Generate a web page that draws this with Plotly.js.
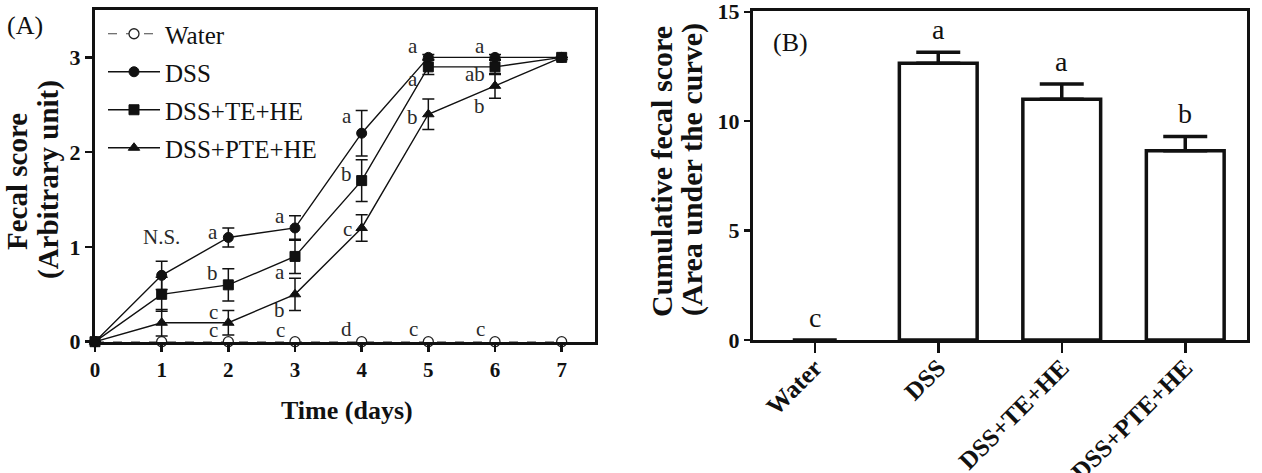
<!DOCTYPE html>
<html>
<head>
<meta charset="utf-8">
<script src="https://cdn.plot.ly/plotly-3.0.1.min.js"></script>
<style>
  html, body { margin: 0; padding: 0; background: #fff; }
  #chart { width: 1262px; height: 473px; }
</style>
</head>
<body>
<div id="chart"></div>
<script>
// ---- Panel A: daily fecal score ----
const days = [0, 1, 2, 3, 4, 5, 6, 7];
const waterScore = [0, 0, 0, 0, 0, 0, 0, 0];
const dssScore = [0, 0.7, 1.1, 1.2, 2.2, 3.0, 3.0, 3.0];
const dssErr = [0, 0.15, 0.1, 0.13, 0.24, 0.03, 0.03, 0];
const teScore = [0, 0.5, 0.6, 0.9, 1.7, 2.9, 2.9, 3.0];
const teErr = [0, 0.18, 0.17, 0.18, 0.22, 0.08, 0.08, 0];
const pteScore = [0, 0.2, 0.2, 0.5, 1.2, 2.4, 2.7, 3.0];
const pteErr = [0, 0.14, 0.13, 0.17, 0.14, 0.16, 0.13, 0];

// significance letters for panel A (day, score level, text)
const sigDay = [1, 2, 2, 2, 2, 3, 3, 3, 3, 4, 4, 4, 4, 5, 5, 5, 5, 6, 6, 6, 6];
const sigLevel = [1.1, 1.16, 0.73, 0.31, 0.12, 1.33, 0.74, 0.33, 0.12,
                  2.38, 1.77, 1.19, 0.13, 3.12, 2.77, 2.37, 0.13, 3.12, 2.83, 2.49, 0.13];
const sigText = ['N.S.', 'a', 'b', 'c', 'c', 'a', 'a', 'b', 'c',
                 'a', 'b', 'c', 'd', 'a', 'a', 'b', 'c', 'a', 'ab', 'b', 'c'];

// ---- Panel B: cumulative score ----
const groups = ['Water', 'DSS', 'DSS+TE+HE', 'DSS+PTE+HE'];
const auc = [0, 12.65, 11.0, 8.65];
const aucErr = [0, 0.5, 0.7, 0.65];
const aucLetters = ['c', 'a', 'a', 'b'];
const aucTicks = [0, 5, 10, 15];

const SERIF = 'Liberation Serif, Times New Roman, serif';
const INK = '#111';

function seriesTrace(name, y, err, symbol, dashed) {
  const t = {
    type: 'scatter', mode: 'lines+markers', name: name,
    x: days, y: y, xaxis: 'x', yaxis: 'y',
    legendgroup: name, cliponaxis: false,
    line: { color: INK, width: 1.4, dash: dashed ? 'dash' : 'solid' },
    marker: { symbol: symbol, size: 10, color: INK, line: { color: INK, width: 1 } }
  };
  if (err) {
    t.error_y = { type: 'data', array: err, visible: true, color: INK, thickness: 1.5, width: 6 };
  }
  return t;
}

const water = seriesTrace('Water', waterScore, null, 'circle', true);
water.line.color = '#444';
water.line.width = 1.1;
water.marker = { symbol: 'circle', size: 10, color: '#fff', line: { color: '#222', width: 1.3 } };

// no outline on a bar whose height is zero
const barOutline = auc.map(v => (v > 0 ? 3.5 : 0));

const traces = [
  water,
  seriesTrace('DSS', dssScore, dssErr, 'circle', false),
  seriesTrace('DSS+TE+HE', teScore, teErr, 'square', false),
  seriesTrace('DSS+PTE+HE', pteScore, pteErr, 'triangle-up', false),
  {
    type: 'bar', x: groups, y: auc, xaxis: 'x2', yaxis: 'y2', showlegend: false,
    width: 0.63,
    marker: { color: '#fff', line: { color: INK, width: barOutline } },
    error_y: { type: 'data', symmetric: false, array: aucErr, arrayminus: groups.map(() => 0),
               visible: true, color: INK, thickness: 3.5, width: 22 }
  }
];

const annotations = [];
sigText.forEach((txt, i) => {
  const centered = txt === 'N.S.';
  annotations.push({
    xref: 'x', yref: 'y', x: sigDay[i], y: sigLevel[i], text: txt, showarrow: false,
    xanchor: centered ? 'center' : 'right', yanchor: 'middle', xshift: centered ? 0 : -8,
    font: { family: SERIF, size: 21, color: '#2a2a2a' }
  });
});
groups.forEach((g, i) => {
  annotations.push({
    xref: 'x2', yref: 'y2', x: g, y: auc[i] + aucErr[i] + 1.05, text: aucLetters[i],
    showarrow: false, xanchor: 'center', yanchor: 'middle',
    font: { family: SERIF, size: 28, color: INK }
  });
});

function pxX(px) { return px / 1262; }
function pxY(py) { return 1 - py / 473; }

// panel labels and axis titles
annotations.push(
  { xref: 'paper', yref: 'paper', x: pxX(25), y: pxY(25), text: '(A)', showarrow: false,
    xanchor: 'center', yanchor: 'middle', font: { family: SERIF, size: 26, color: INK } },
  { xref: 'paper', yref: 'paper', x: pxX(790), y: pxY(42), text: '(B)', showarrow: false,
    xanchor: 'center', yanchor: 'middle', font: { family: SERIF, size: 26, color: INK } },
  { xref: 'paper', yref: 'paper', x: pxX(17), y: pxY(182), text: '<b>Fecal score</b>', showarrow: false,
    textangle: -90, xanchor: 'center', yanchor: 'middle', font: { family: SERIF, size: 29, color: INK } },
  { xref: 'paper', yref: 'paper', x: pxX(48), y: pxY(180), text: '<b>(Arbitrary unit)</b>', showarrow: false,
    textangle: -90, xanchor: 'center', yanchor: 'middle', font: { family: SERIF, size: 29, color: INK } },
  { xref: 'paper', yref: 'paper', x: pxX(347), y: pxY(410), text: '<b>Time (days)</b>', showarrow: false,
    xanchor: 'center', yanchor: 'middle', font: { family: SERIF, size: 26, color: INK } },
  { xref: 'paper', yref: 'paper', x: pxX(661), y: pxY(172), text: '<b>Cumulative fecal score</b>', showarrow: false,
    textangle: -90, xanchor: 'center', yanchor: 'middle', font: { family: SERIF, size: 30, color: INK } },
  { xref: 'paper', yref: 'paper', x: pxX(692), y: pxY(170), text: '<b>(Area under the curve)</b>', showarrow: false,
    textangle: -90, xanchor: 'center', yanchor: 'middle', font: { family: SERIF, size: 30, color: INK } }
);

const axisCommon = {
  showline: true, linecolor: INK, linewidth: 3, mirror: true,
  showgrid: false, zeroline: false, ticks: 'outside', tickcolor: INK, tickwidth: 2.5,
  ticklabeloverflow: 'allow', fixedrange: true
};

const layout = {
  width: 1262, height: 473,
  margin: { l: 0, r: 0, t: 0, b: 0 },
  paper_bgcolor: '#fff', plot_bgcolor: '#fff',
  font: { family: SERIF, color: INK },
  showlegend: true,
  legend: {
    x: pxX(103), y: pxY(11), xanchor: 'left', yanchor: 'top',
    bgcolor: 'rgba(0,0,0,0)', borderwidth: 0,
    font: { family: SERIF, size: 25, color: INK },
    traceorder: 'grouped', tracegroupgap: 2.5, itemwidth: 52
  },
  xaxis: Object.assign({}, axisCommon, {
    domain: [pxX(95), pxX(595)], range: [0, 7.5], tickvals: days, ticklen: 7,
    tickfont: { family: SERIF, size: 21, color: INK, weight: 'bold' }
  }),
  yaxis: Object.assign({}, axisCommon, {
    domain: [pxY(341.7), pxY(10)], range: [0, 3.5], tickvals: [0, 1, 2, 3], ticklen: 7,
    tickfont: { family: SERIF, size: 22, color: INK, weight: 'bold' }
  }),
  xaxis2: Object.assign({}, axisCommon, {
    anchor: 'y2', domain: [pxX(753), pxX(1247)], range: [-0.5, 3.5], type: 'category',
    tickangle: -45, ticklen: 10, ticklabelstandoff: -10,
    tickfont: { family: SERIF, size: 25, color: INK, weight: 'bold' }
  }),
  yaxis2: Object.assign({}, axisCommon, {
    anchor: 'x2', domain: [pxY(340), pxY(10.7)], range: [0, 15.05], tickvals: aucTicks, ticklen: 6,
    tickfont: { family: SERIF, size: 22, color: INK, weight: 'bold' }
  }),
  annotations: annotations
};

Plotly.newPlot('chart', traces, layout, { displayModeBar: false, staticPlot: true });
</script>
</body>
</html>
